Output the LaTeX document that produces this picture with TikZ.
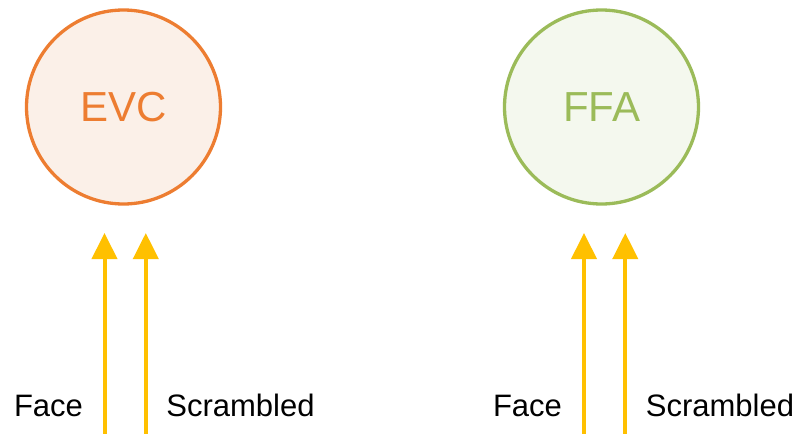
\documentclass[tikz,border=0pt]{standalone}
\usepackage{fontspec}
\setmainfont{Liberation Sans}
\usetikzlibrary{arrows.meta}
\definecolor{evcline}{HTML}{ED7D31}
\definecolor{evcfill}{HTML}{FBF0E8}
\definecolor{ffaline}{HTML}{9BBB59}
\definecolor{ffafill}{HTML}{F4F8EE}
\definecolor{inputarrow}{HTML}{FFC000}
\begin{document}
\begin{tikzpicture}[x=1pt,y=-1pt,
  region/.style={circle,line width=3.3pt,minimum size=194pt,inner sep=0pt,outer sep=0pt,
    font=\fontsize{42}{42}\selectfont},
  evc/.style={region,draw=evcline,fill=evcfill,text=evcline},
  ffa/.style={region,draw=ffaline,fill=ffafill,text=ffaline},
  stim/.style={anchor=base,inner sep=0pt,font=\fontsize{31}{31}\selectfont},
  feed/.style={draw=inputarrow,line width=4pt,-{Triangle[width=25pt,length=26pt]}}]
  \useasboundingbox (0,0) rectangle (804,434);
  % brain regions
  \node[evc] (evc) at (123.5,107) {EVC};
  \node[ffa] (ffa) at (601.5,107) {FFA};
  % stimulus labels
  \node[stim] (faceL) at (48.5,416) {Face};
  \node[stim] (scrL) at (240.5,416) {Scrambled};
  \node[stim] (faceR) at (527.5,416) {Face};
  \node[stim] (scrR) at (720,416) {Scrambled};
  % input arrows
  \coordinate (a1s) at (104.5,434); \coordinate (a1e) at (104.5,233);
  \coordinate (a2s) at (145.8,434); \coordinate (a2e) at (145.8,233);
  \coordinate (a3s) at (584,434);   \coordinate (a3e) at (584,233);
  \coordinate (a4s) at (625.3,434); \coordinate (a4e) at (625.3,233);
  \draw[feed] (a1s) -- (a1e);
  \draw[feed] (a2s) -- (a2e);
  \draw[feed] (a3s) -- (a3e);
  \draw[feed] (a4s) -- (a4e);
\end{tikzpicture}
\end{document}
